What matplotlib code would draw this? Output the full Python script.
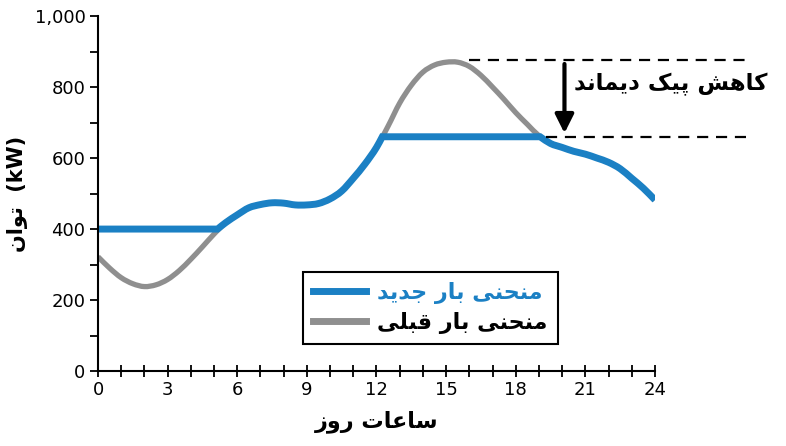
import numpy as np
import matplotlib.pyplot as plt
from matplotlib.path import Path
from matplotlib.patches import PathPatch
from matplotlib.lines import Line2D
from matplotlib.ticker import MultipleLocator, FuncFormatter

# simple Persian shaping: matplotlib does not join Arabic letters itself
FORMS = {
    'ا': (0xFE8D, 0xFE8E, None, None),
    'ب': (0xFE8F, 0xFE90, 0xFE91, 0xFE92),
    'پ': (0xFB56, 0xFB57, 0xFB58, 0xFB59),
    'ت': (0xFE95, 0xFE96, 0xFE97, 0xFE98),
    'ج': (0xFE9D, 0xFE9E, 0xFE9F, 0xFEA0),
    'ح': (0xFEA1, 0xFEA2, 0xFEA3, 0xFEA4),
    'د': (0xFEA9, 0xFEAA, None, None),
    'ر': (0xFEAD, 0xFEAE, None, None),
    'ز': (0xFEAF, 0xFEB0, None, None),
    'س': (0xFEB1, 0xFEB2, 0xFEB3, 0xFEB4),
    'ش': (0xFEB5, 0xFEB6, 0xFEB7, 0xFEB8),
    'ع': (0xFEC9, 0xFECA, 0xFECB, 0xFECC),
    'ق': (0xFED5, 0xFED6, 0xFED7, 0xFED8),
    'ک': (0xFB8E, 0xFB8F, 0xFB90, 0xFB91),
    'ل': (0xFEDD, 0xFEDE, 0xFEDF, 0xFEE0),
    'م': (0xFEE1, 0xFEE2, 0xFEE3, 0xFEE4),
    'ن': (0xFEE5, 0xFEE6, 0xFEE7, 0xFEE8),
    'ه': (0xFEE9, 0xFEEA, 0xFEEB, 0xFEEC),
    'و': (0xFEED, 0xFEEE, None, None),
    'ی': (0xFBFC, 0xFBFD, 0xFBFE, 0xFBFF),
}


def fa(s):
    out = []
    for i, c in enumerate(s):
        if c not in FORMS:
            out.append(c)
            continue
        prev = s[i - 1] if i > 0 else ''
        nxt = s[i + 1] if i + 1 < len(s) else ''
        join_prev = prev in FORMS and FORMS[prev][2] is not None
        join_next = nxt in FORMS and FORMS[c][2] is not None
        f = FORMS[c]
        if join_prev and join_next:
            out.append(chr(f[3]))
        elif join_prev:
            out.append(chr(f[1]))
        elif join_next:
            out.append(chr(f[2]))
        else:
            out.append(chr(f[0]))
    return ''.join(out)[::-1]


def smooth_path(x, y):
    # bezier (hermite) path through the points; long level runs stay straight
    x = np.asarray(x, float)
    y = np.asarray(y, float)
    n = len(x)
    d = np.diff(y) / np.diff(x)
    flat = (d == 0) & (np.diff(x) > 1)
    verts = [(x[0], y[0])]
    codes = [Path.MOVETO]
    for k in range(n - 1):
        h = x[k + 1] - x[k]
        if flat[k]:
            m0 = m1 = 0.0
        else:
            m0 = d[k] if k == 0 or flat[k - 1] else (d[k - 1] + d[k]) / 2
            m1 = d[k] if k == n - 2 or flat[k + 1] else (d[k] + d[k + 1]) / 2
        verts += [(x[k] + h / 3, y[k] + m0 * h / 3),
                  (x[k + 1] - h / 3, y[k + 1] - m1 * h / 3),
                  (x[k + 1], y[k + 1])]
        codes += [Path.CURVE4] * 3
    return Path(verts, codes)


# data
hours_old = np.arange(0, 24.5, 0.5)
load_old = [322, 290, 263, 246, 238, 243, 258, 283, 315, 350,
            386, 418, 440, 460, 469, 474, 473, 468, 468, 472,
            485, 507, 543, 583, 630, 690, 755, 805, 842, 862,
            870, 870, 858, 833, 800, 765, 728, 695, 663, 641,
            630, 619, 611, 600, 588, 570, 543, 515, 482]

hours_new = [0, 5.15, 5.5, 6, 6.5, 7, 7.5, 8, 8.5, 9, 9.5, 10, 10.5, 11,
             11.5, 12, 12.25, 19.05, 19.5, 20, 20.5, 21, 21.5, 22, 22.5,
             23, 23.5, 24]
load_new = [400, 400, 418, 440, 460, 469, 474, 473, 468, 468, 472, 485,
            507, 543, 583, 630, 660, 660, 641, 630, 619, 611, 600, 588,
            570, 543, 515, 482]

peak_old = 875
peak_new = 660

label_new = 'منحنی بار جدید'
label_old = 'منحنی بار قبلی'
xlabel = 'ساعات روز'
ylabel = 'توان'
note = 'کاهش پیک دیماند'

blue = '#1b80c4'
gray = '#8f8f8f'

plt.rcParams['font.family'] = ['DejaVu Sans']

fig = plt.figure(figsize=(7.86, 4.46), dpi=100)
ax = fig.add_axes([0.1247, 0.168, 0.7086, 0.796])

ax.add_patch(PathPatch(smooth_path(hours_old, load_old), fc='none', ec=gray,
                       lw=3.8, capstyle='butt', joinstyle='round'))
ax.add_patch(PathPatch(smooth_path(hours_new, load_new), fc='none', ec=blue,
                       lw=5, capstyle='butt', joinstyle='miter'))

ax.set_xlim(0, 24)
ax.set_ylim(0, 1000)
for s in ['top', 'right']:
    ax.spines[s].set_visible(False)
for s in ['left', 'bottom']:
    ax.spines[s].set_linewidth(1.5)

ax.xaxis.set_major_locator(MultipleLocator(3))
ax.xaxis.set_minor_locator(MultipleLocator(1))
ax.yaxis.set_major_locator(MultipleLocator(200))
ax.yaxis.set_minor_locator(MultipleLocator(100))
ax.yaxis.set_major_formatter(FuncFormatter(lambda v, p: f'{int(v):,}'))
ax.tick_params(axis='x', which='both', direction='inout', length=9, width=1.3,
               labelsize=13, pad=3)
ax.tick_params(axis='y', which='both', direction='out', length=6, width=1.3,
               labelsize=13, pad=3)

ax.set_xlabel(fa(xlabel), fontsize=16, fontweight='bold', labelpad=8)
ax.set_ylabel(fa(ylabel) + '  (kW)', fontsize=15, fontweight='bold', labelpad=5)

# peak shaving annotation
ax.plot([16.0, 27.9], [peak_old, peak_old], color='black', lw=1.6,
        dashes=(5, 3.5), clip_on=False)
ax.plot([19.3, 28.0], [peak_new, peak_new], color='black', lw=1.6,
        dashes=(5, 3.5), clip_on=False)
ax.annotate('', xy=(20.1, peak_new + 10), xytext=(20.1, peak_old - 10),
            arrowprops=dict(arrowstyle='-|>', color='black', lw=3,
                            mutation_scale=28, shrinkA=0, shrinkB=0))
ax.text(20.5, 806, fa(note), fontsize=16.5, fontweight='bold', va='center',
        ha='left', clip_on=False)

handles = [Line2D([], [], color=blue, lw=5), Line2D([], [], color=gray, lw=5)]
leg = ax.legend(handles, [fa(label_new), fa(label_old)], loc='upper left',
                bbox_to_anchor=(0.368, 0.279), borderaxespad=0, frameon=True,
                fancybox=False, framealpha=1, prop=dict(size=16, weight='bold'),
                handlelength=2.4, borderpad=0.45, labelspacing=0.35,
                handletextpad=0.5)
leg.get_frame().set_edgecolor('black')
leg.get_frame().set_linewidth(1.5)
leg.get_texts()[0].set_color(blue)

fig.savefig('out.png', dpi=100)
